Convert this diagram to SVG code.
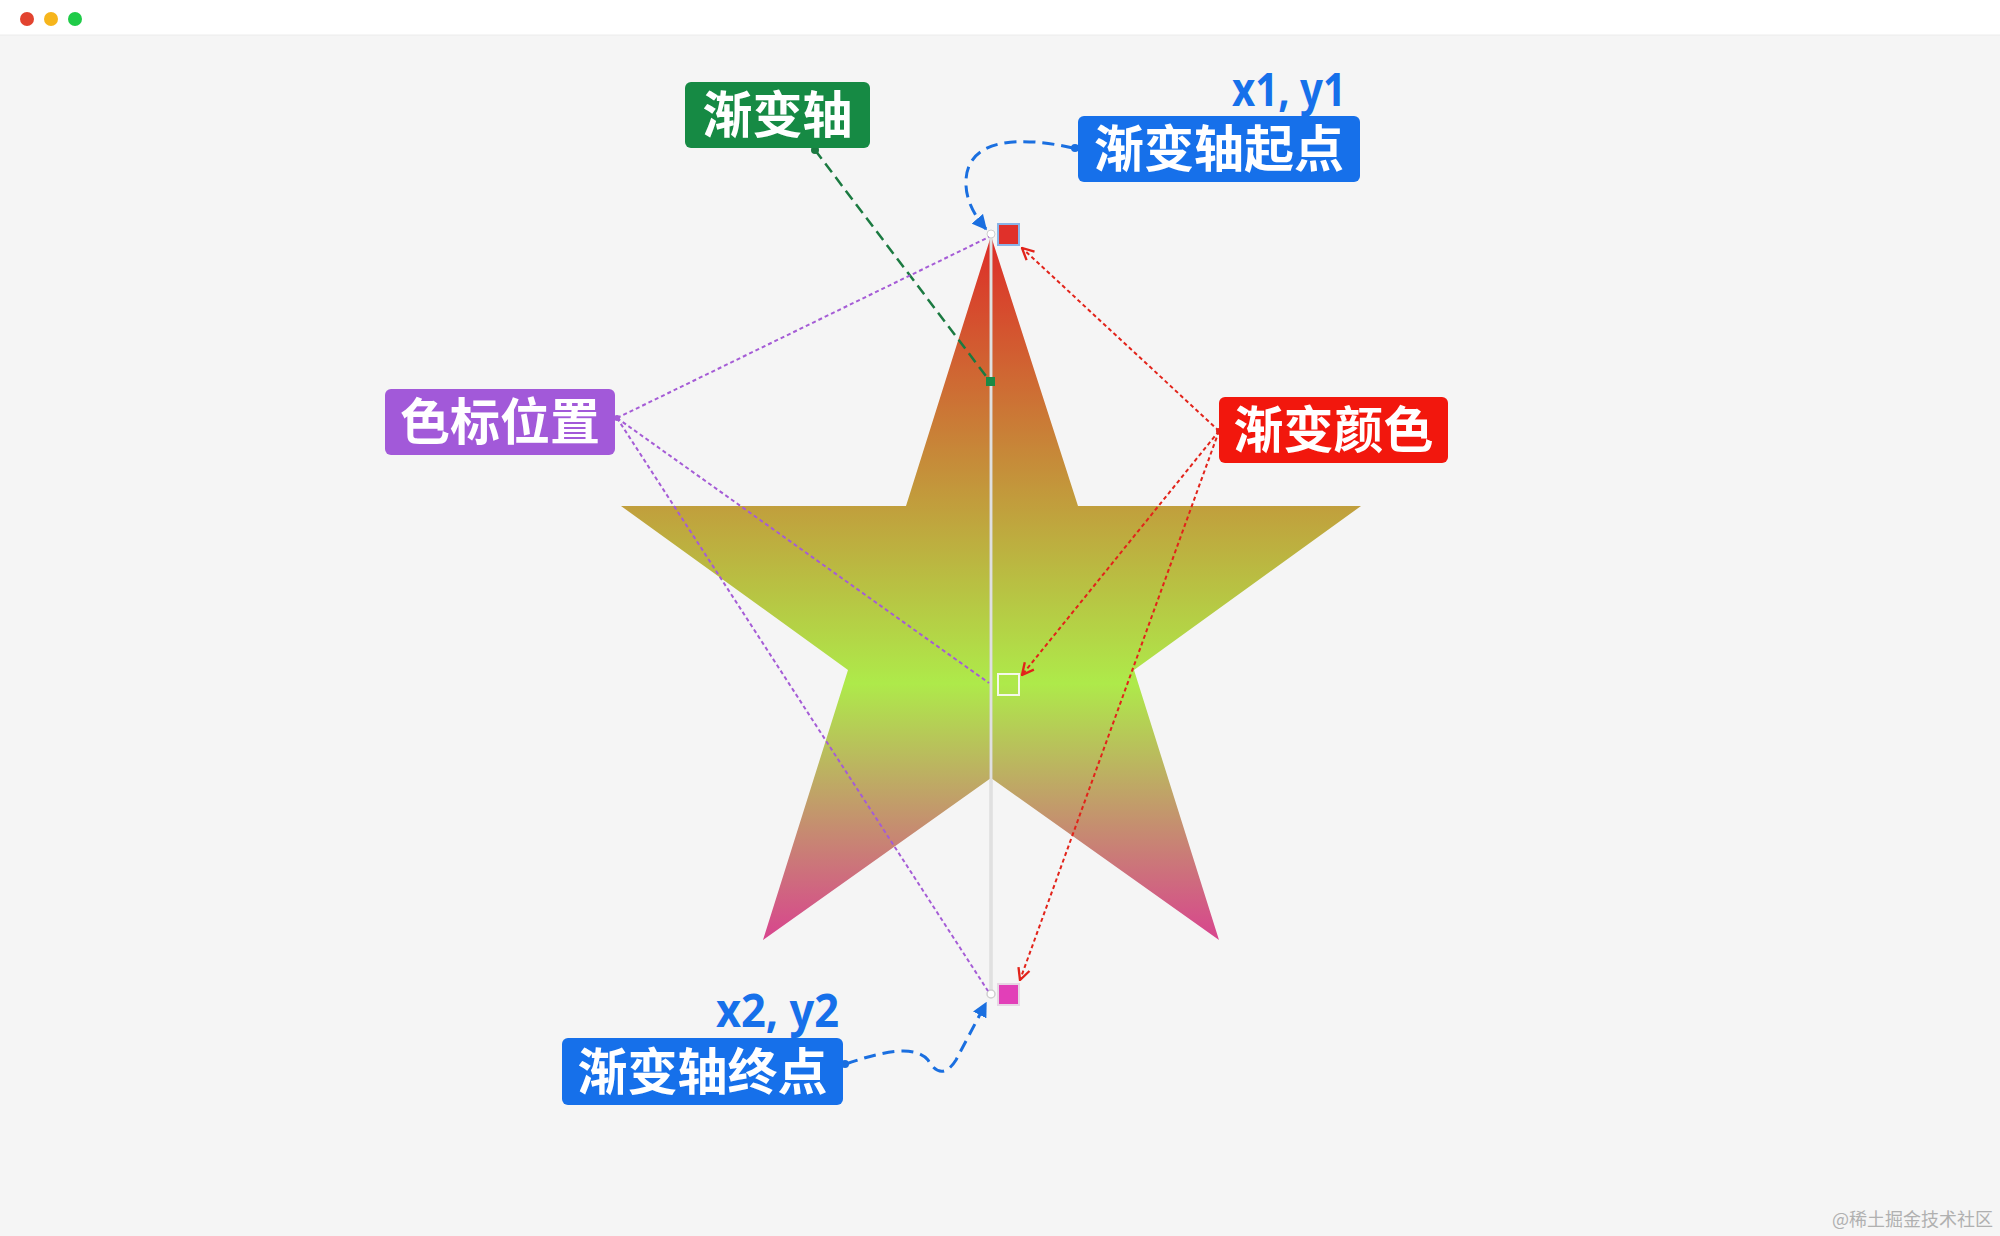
<svg xmlns="http://www.w3.org/2000/svg" width="2000" height="1236" viewBox="0 0 2000 1236">
<defs>
<style>
.lbl{font-family:"Noto Sans CJK SC","Noto Sans",sans-serif;font-weight:700;font-size:50px;fill:#fff;text-anchor:middle}
.coord{font-family:"Noto Sans","Liberation Sans",sans-serif;font-weight:700;font-size:46px;fill:#1670ea;text-anchor:end}
.blue{fill:none;stroke:#1a6fe0;stroke-width:3;stroke-dasharray:12 7}
.green{fill:none;stroke:#1b7a41;stroke-width:2.5;stroke-dasharray:11 6}
.purple{fill:none;stroke:#a55cd6;stroke-width:2;stroke-dasharray:4 3}
.red{fill:none;stroke:#e2231a;stroke-width:2;stroke-dasharray:4 3}
</style>
<linearGradient id="grad" gradientUnits="userSpaceOnUse" x1="991" y1="236" x2="991" y2="994">
<stop offset="0" stop-color="#de2c28"/>
<stop offset="0.59" stop-color="#aeea4a"/>
<stop offset="0.93" stop-color="#d8448e"/>
<stop offset="1" stop-color="#e03fa8"/>
</linearGradient>
<marker id="ab" viewBox="0 0 10 10" refX="9" refY="5" markerWidth="5" markerHeight="5" orient="auto" markerUnits="strokeWidth">
<path d="M0,0 L10,5 L0,10 Z" fill="#1a6fe0"/>
</marker>
<marker id="ar" viewBox="0 0 12 12" refX="11" refY="6" markerWidth="7" markerHeight="7" orient="auto" markerUnits="strokeWidth">
<path d="M1,1 L11,6 L1,11" fill="none" stroke="#e2231a" stroke-width="2"/>
</marker>
</defs>
<rect x="0" y="0" width="2000" height="1236" fill="#f5f5f5"/>
<g id="titlebar">
<rect x="0" y="0" width="2000" height="35" fill="#ffffff"/>
<line x1="0" y1="35" x2="2000" y2="35" stroke="#ececec" stroke-width="1"/>
<circle cx="27" cy="19" r="7" fill="#e2432f"/>
<circle cx="51" cy="19" r="7" fill="#f6b51c"/>
<circle cx="75" cy="19" r="7" fill="#1fcb48"/>
</g>
<g id="star">
<polygon points="991,236 1078,506 1361,506 1134,670 1219,940 991,778 763,940 848,670 621,506 906,506" fill="url(#grad)"/>
</g>
<g id="axis">
<line x1="991" y1="236" x2="991" y2="994" stroke="#d4d4d4" stroke-width="3"/>
<line x1="991" y1="236" x2="991" y2="994" stroke="#f4f4f4" stroke-width="1" opacity="0.8"/>
<circle cx="991" cy="234" r="4" fill="#fff" stroke="#cfcfcf" stroke-width="1"/>
<circle cx="991" cy="994" r="4" fill="#fff" stroke="#cfcfcf" stroke-width="1.5"/>
<rect x="986" y="377" width="9" height="9" fill="#1b8a45"/>
</g>
<g id="stop-start">
<rect x="998" y="224" width="21" height="21" fill="#e0302a" stroke="#8ab4e8" stroke-width="2"/>
</g>
<g id="stop-mid">
<rect x="998" y="674" width="21" height="21" fill="none" stroke="#f4f8ea" stroke-width="2"/>
</g>
<g id="stop-end">
<rect x="998" y="984" width="21" height="21" fill="#e23fb8" stroke="#e6d6e4" stroke-width="2"/>
</g>
<g id="connectors">
<path class="green" d="M815,150 L989,380"/>
<circle cx="815" cy="150" r="4" fill="#1b7a41"/>
<path class="blue" d="M1073,148 C1020,136 968,138 966,180 C965,200 975,216 986,229" marker-end="url(#ab)"/>
<circle cx="1075" cy="148" r="4" fill="#1a6fe0"/>
<path class="blue" d="M846,1064 C880,1052 915,1044 928,1060 C936,1074 946,1076 956,1060 L986,1003" marker-end="url(#ab)"/>
<circle cx="845" cy="1064" r="4" fill="#1a6fe0"/>
<path class="purple" d="M617,418 L989,237"/>
<path class="purple" d="M617,418 L989,683"/>
<path class="purple" d="M617,418 L988,991"/>
<circle cx="617" cy="418" r="3" fill="#a55cd6"/>
<path class="red" d="M1219,431 L1022,248" marker-end="url(#ar)"/>
<path class="red" d="M1219,431 L1022,675" marker-end="url(#ar)"/>
<path class="red" d="M1219,431 L1020,980" marker-end="url(#ar)"/>
<circle cx="1219" cy="431" r="3" fill="#e2231a"/>
</g>
<g id="label-axis">
<rect x="685" y="82" width="185" height="66" rx="6" fill="#168a44"/>
<text class="lbl" x="777.5" y="133">渐变轴</text>
</g>
<g id="label-start">
<text class="coord" x="1346" y="106" textLength="114" lengthAdjust="spacingAndGlyphs">x1, y1</text>
<rect x="1078" y="116" width="282" height="66" rx="6" fill="#1670ea"/>
<text class="lbl" x="1219" y="167">渐变轴起点</text>
</g>
<g id="label-stoppos">
<rect x="385" y="389" width="230" height="66" rx="6" fill="#a259d9"/>
<text class="lbl" x="500" y="440">色标位置</text>
</g>
<g id="label-color">
<rect x="1219" y="397" width="229" height="66" rx="6" fill="#f2170d"/>
<text class="lbl" x="1333.5" y="448">渐变颜色</text>
</g>
<g id="label-end">
<text class="coord" x="839" y="1027" textLength="123" lengthAdjust="spacingAndGlyphs">x2, y2</text>
<rect x="562" y="1038" width="281" height="67" rx="6" fill="#1670ea"/>
<text class="lbl" x="702.5" y="1090">渐变轴终点</text>
</g>
<text x="1993" y="1226" font-family="Noto Sans CJK SC, sans-serif" font-size="18" fill="#b0b0b0" text-anchor="end">@稀土掘金技术社区</text>
</svg>
